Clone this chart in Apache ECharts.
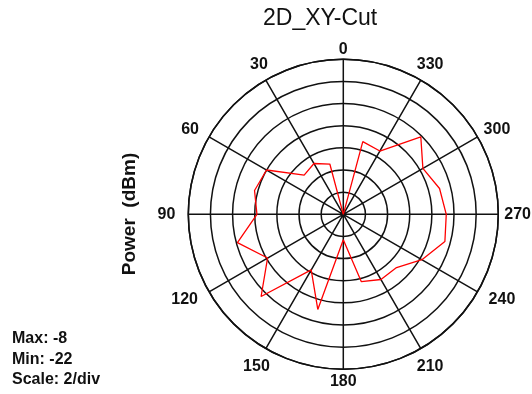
<!DOCTYPE html>
<html>
<head>
<meta charset="utf-8">
<script src="https://cdn.jsdelivr.net/npm/echarts@6/dist/echarts.min.js"></script>
<style>
html,body{margin:0;padding:0;background:#fff;}
#chart{width:532px;height:394px;}
</style>
</head>
<body>
<div id="chart"></div>
<script>
// Angles (degrees) and measured power (dBm)
var angles = [0, 15, 30, 45, 60, 75, 90, 105, 120, 135, 150, 165, 180, 195, 210, 225, 240, 255, 270, 285, 300, 315, 330, 345, 360];
var power = [-22, -17.3, -16.7, -17.0, -14.0, -13.7, -14.2, -12.1, -14.1, -11.5, -16.2, -13.1, -19.7, -15.7, -15.2, -15.2, -13.8, -12.5, -12.7, -13.0, -13.7, -12.1, -15.4, -15.2, -22];
var radiusMin = -22, radiusMax = -8, radiusStep = 2;
var angleTicks = [0, 30, 60, 90, 120, 150, 180, 210, 240, 270, 300, 330];
var titleText = '2D_XY-Cut';
var axisName = 'Power  (dBm)';
var infoLines = ['Max: -8', 'Min: -22', 'Scale: 2/div'];

var FONT = '"Liberation Sans", Arial, sans-serif';
var chart = echarts.init(document.getElementById('chart'), null, {renderer: 'canvas'});
var lineData = angles.map(function (a, i) { return [power[i], a]; });

// fine placement of the angle labels (padding pushes each label outward)
var labelPad = {
  0: [0, 0, 10, 0], 30: [0, 2, 14, 0], 60: [0, 17, 3, 0], 90: [0, 21, 0, 0],
  120: [4, 18, 0, 0], 150: [17, 0, 0, 0], 180: [12, 0, 0, 0], 210: [17, 0, 0, 0],
  240: [4, 0, 0, 18], 270: [0, 0, 0, 14], 300: [0, 0, 3, 13], 330: [0, 0, 14, 0]
};
var rich = {};
angleTicks.forEach(function (t) {
  rich['p' + t] = {padding: labelPad[t], color: '#111', fontFamily: FONT, fontWeight: 'bold', fontSize: 16};
});

chart.setOption({
  animation: false,
  backgroundColor: '#fff',
  polar: {center: [343.3, 214.3], radius: 155},
  angleAxis: {
    type: 'value', min: 0, max: 360, interval: 30,
    startAngle: 90, clockwise: false,
    axisLine: {show: true, lineStyle: {color: '#111', width: 1.5}},
    axisTick: {show: false},
    splitLine: {show: true, lineStyle: {color: '#111', width: 1.5}},
    axisLabel: {
      margin: -8,
      color: '#111', fontFamily: FONT, fontWeight: 'bold', fontSize: 16,
      rich: rich,
      formatter: function (v) { return angleTicks.indexOf(v) >= 0 ? '{p' + v + '|' + v + '}' : ''; }
    }
  },
  radiusAxis: {
    type: 'value', min: radiusMin, max: radiusMax, interval: radiusStep,
    axisLine: {show: false}, axisTick: {show: false}, axisLabel: {show: false},
    splitLine: {show: true, lineStyle: {color: '#111', width: 1.5}}
  },
  series: [{
    type: 'line', coordinateSystem: 'polar', data: lineData,
    symbol: 'none', lineStyle: {color: '#ff0000', width: 1.3}, z: 5
  }],
  graphic: [
    {type: 'text', left: 263, top: 7, style: {text: titleText, font: 'normal 23px ' + FONT, fill: '#111'}},
    {type: 'text', x: 130, y: 214, rotation: Math.PI / 2,
      style: {text: axisName, font: 'bold 19px ' + FONT, fill: '#111', textAlign: 'center', textVerticalAlign: 'middle'}},
    {type: 'text', x: 12, y: 347, style: {text: infoLines[0], font: 'bold 16px ' + FONT, fill: '#111', textVerticalAlign: 'bottom'}},
    {type: 'text', x: 12, y: 368, style: {text: infoLines[1], font: 'bold 16px ' + FONT, fill: '#111', textVerticalAlign: 'bottom'}},
    {type: 'text', x: 12, y: 388, style: {text: infoLines[2], font: 'bold 16px ' + FONT, fill: '#111', textVerticalAlign: 'bottom'}}
  ]
});
</script>
</body>
</html>
